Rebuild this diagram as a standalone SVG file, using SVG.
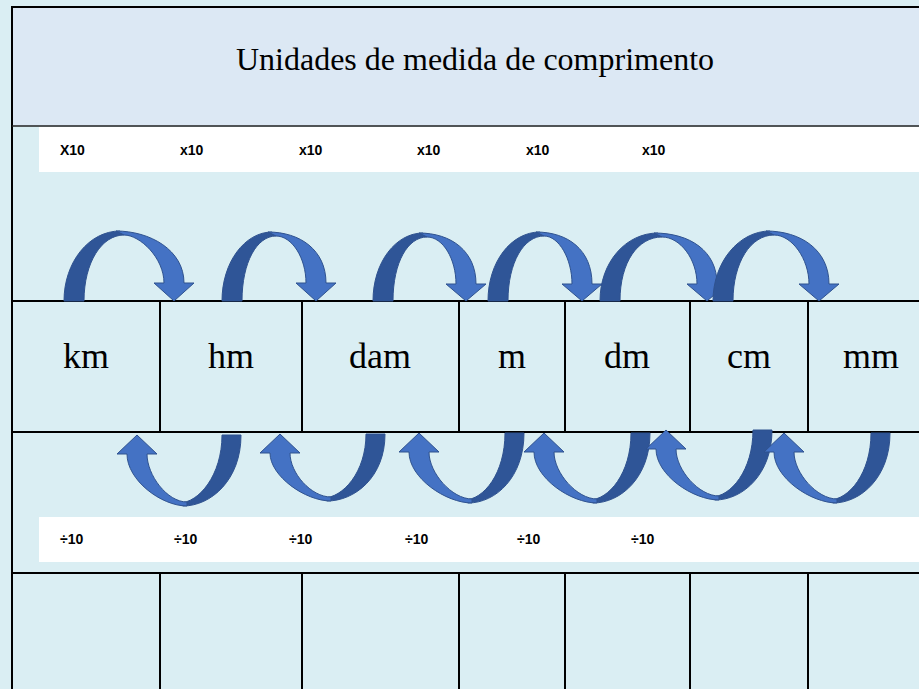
<svg xmlns="http://www.w3.org/2000/svg" width="919" height="689" viewBox="0 0 919 689">
<style>
.ln{stroke:#000;stroke-width:2;fill:none}
.title{font-family:"Liberation Serif",serif;font-size:32px;fill:#000}
.unit{font-family:"Liberation Serif",serif;font-size:36px;fill:#000;text-anchor:middle}
.op{font-family:"Liberation Sans",Arial,sans-serif;font-size:14px;font-weight:bold;fill:#000}
.dk{fill:#2F5597;stroke:#2F528F;stroke-width:1}
.lt{fill:#4472C4;stroke:#2F528F;stroke-width:1}
</style>
<rect x="0" y="0" width="919" height="689" fill="#DAEEF3"/>
<g id="header">
<rect x="12" y="6" width="907" height="120" fill="#DCE8F4"/>
<text class="title" x="475" y="70" text-anchor="middle">Unidades de medida de comprimento</text>
</g>
<g id="mult-band">
<rect x="39" y="127" width="880" height="45" fill="#FFFFFF"/>
<text class="op" x="60" y="155">X10</text>
<text class="op" x="180" y="155">x10</text>
<text class="op" x="299" y="155">x10</text>
<text class="op" x="417" y="155">x10</text>
<text class="op" x="526" y="155">x10</text>
<text class="op" x="642" y="155">x10</text>
</g>
<g id="div-band">
<rect x="39" y="517" width="880" height="45" fill="#FFFFFF"/>
<text class="op" x="60" y="544">÷10</text>
<text class="op" x="174" y="544">÷10</text>
<text class="op" x="289" y="544">÷10</text>
<text class="op" x="405" y="544">÷10</text>
<text class="op" x="517" y="544">÷10</text>
<text class="op" x="631" y="544">÷10</text>
</g>
<g id="units">
<text class="unit" x="86" y="368">km</text>
<text class="unit" x="231" y="368">hm</text>
<text class="unit" x="380" y="368">dam</text>
<text class="unit" x="512" y="368">m</text>
<text class="unit" x="627" y="368">dm</text>
<text class="unit" x="749" y="368">cm</text>
<text class="unit" x="871" y="368">mm</text>
</g>
<g id="grid">
<line class="ln" x1="12" y1="7" x2="919" y2="7"/>
<line class="ln" x1="12" y1="6" x2="12" y2="689"/>
<line x1="12" y1="126" x2="919" y2="126" stroke="#222" stroke-width="1.6"/>
<line class="ln" x1="12" y1="301" x2="919" y2="301"/>
<line class="ln" x1="12" y1="432" x2="919" y2="432"/>
<line class="ln" x1="12" y1="573" x2="919" y2="573"/>
<path class="ln" d="M160 301V432M302 301V432M459 301V432M565 301V432M690 301V432M808 301V432"/>
<path class="ln" d="M160 573V689M302 573V689M459 573V689M565 573V689M690 573V689M808 573V689"/>
</g>
<g id="connectors">
<g id="mul1">
<path class="dk" d="M64 301C64 262 89 231 120 231L124 235C102 235 84 262 84 301Z"/>
<path class="lt" d="M116 231C150 231 184 250 184 283L194 283L174 301L154 283L164 283C164 258 140 235 124 235Z"/>
</g>
<g id="mul2">
<path class="dk" d="M222 301C222 262 245 232 272 232L276 236C257 236 242 262 242 301Z"/>
<path class="lt" d="M268 232C300 232 326 250 326 283L336 283L316 301L296 283L306 283C306 258 292 236 276 236Z"/>
</g>
<g id="mul3">
<path class="dk" d="M373 301C373 262 396 233 423 233L427 237C408 237 393 262 393 301Z"/>
<path class="lt" d="M419 233C451 233 476 251 476 284L486 284L466 301L446 284L456 284C456 259 443 237 427 237Z"/>
</g>
<g id="mul4">
<path class="dk" d="M488 301C488 262 511 232 540 232L544 236C524 236 508 262 508 301Z"/>
<path class="lt" d="M536 232C568 232 592 250 592 284L602 284L582 301L562 284L572 284C572 259 559 236 544 236Z"/>
</g>
<g id="mul5">
<path class="dk" d="M600 301C600 262 626 233 658 233L662 237C638 237 620 262 620 301Z"/>
<path class="lt" d="M654 233C690 233 717 251 717 284L727 284L707 301L687 284L697 284C697 259 680 237 662 237Z"/>
</g>
<g id="mul6">
<path class="dk" d="M713 301C713 262 739 231 770 231L774 235C751 235 733 262 733 301Z"/>
<path class="lt" d="M766 231C801 231 829 250 829 284L839 284L819 301L799 284L809 284C809 259 792 235 774 235Z"/>
</g>
<g id="div1">
<path class="dk" d="M222 435L241 435C241 480 211 506 183 506L179 503C199 503 222 475 222 435Z"/>
<path class="lt" d="M187 506C161 506 127 480 127 454L117 454L137 435L157 454L147 454C147 475 167 502 187 502Z"/>
</g>
<g id="div2">
<path class="dk" d="M366 434L385 434C385 477 355 501 327 501L323 498C343 498 366 472 366 434Z"/>
<path class="lt" d="M331 501C305 501 270 476 270 453L260 453L280 434L300 453L290 453C290 473 311 497 331 497Z"/>
</g>
<g id="div3">
<path class="dk" d="M505 433L524 433C524 477 496 503 468 503L464 500C484 500 505 473 505 433Z"/>
<path class="lt" d="M472 503C446 503 409 478 409 452L399 452L419 433L439 452L429 452C429 473 452 499 472 499Z"/>
</g>
<g id="div4">
<path class="dk" d="M631 433L650 433C650 477 621 503 593 503L589 500C609 500 631 473 631 433Z"/>
<path class="lt" d="M597 503C571 503 534 478 534 452L524 452L544 433L564 452L554 452C554 473 577 499 597 499Z"/>
</g>
<g id="div5">
<path class="dk" d="M753 430L772 430C772 474 743 500 715 500L711 497C731 497 753 470 753 430Z"/>
<path class="lt" d="M719 500C693 500 656 475 656 449L646 449L666 430L686 449L676 449C676 470 699 496 719 496Z"/>
</g>
<g id="div6">
<path class="dk" d="M871 433L890 433C890 477 861 503 833 503L829 500C849 500 871 473 871 433Z"/>
<path class="lt" d="M837 503C811 503 774 478 774 452L764 452L784 433L804 452L794 452C794 473 817 499 837 499Z"/>
</g>
</g>
</svg>
